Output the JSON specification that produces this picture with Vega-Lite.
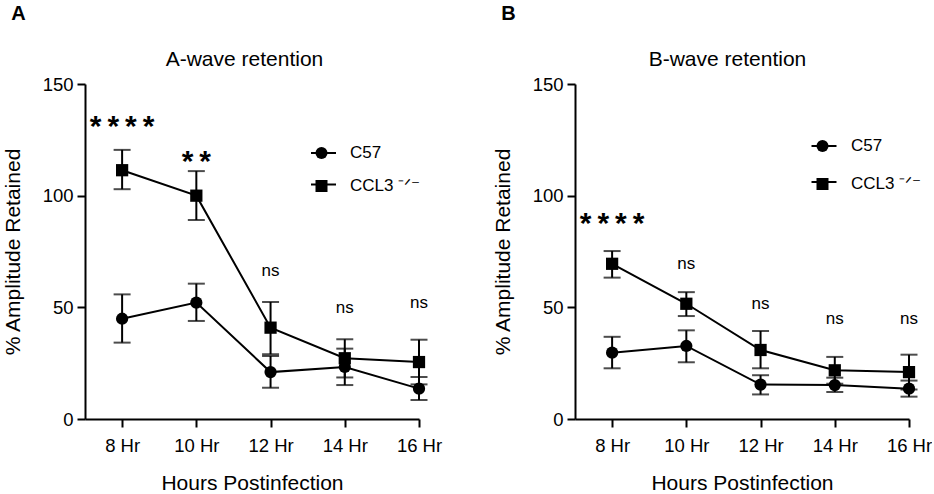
{
  "$schema": "https://vega.github.io/schema/vega-lite/v6.json",
  "padding": {"left": 2, "top": 4, "right": 0, "bottom": 0},
  "config": {
    "font": "Liberation Sans",
    "view": {"stroke": null},
    "axis": {"domainColor": "black", "domainWidth": 2, "tickColor": "black", "tickWidth": 2, "tickSize": 8, "labelColor": "black", "labelFontSize": 18.5, "titleFontSize": 21, "titleFontWeight": "normal", "titleColor": "black", "grid": false, "labelPadding": 4},
    "legend": {"orient": "none", "title": null, "labelFontSize": 17, "labelColor": "black", "symbolSize": 144, "labelOffset": 20}
  },
  "datasets": {
    "pts": [
      {"panel": "A", "group": "C57", "hour": 8, "mean": 44.9, "lo": 34.2, "hi": 55.8},
      {"panel": "A", "group": "C57", "hour": 10, "mean": 52.1, "lo": 43.9, "hi": 60.6},
      {"panel": "A", "group": "C57", "hour": 12, "mean": 21.0, "lo": 14.0, "hi": 28.2},
      {"panel": "A", "group": "C57", "hour": 14, "mean": 23.3, "lo": 15.2, "hi": 31.5},
      {"panel": "A", "group": "C57", "hour": 16, "mean": 13.6, "lo": 8.5, "hi": 18.8},
      {"panel": "A", "group": "CCL3", "hour": 8, "mean": 111.4, "lo": 102.9, "hi": 120.5},
      {"panel": "A", "group": "CCL3", "hour": 10, "mean": 100.0, "lo": 89.1, "hi": 111.0},
      {"panel": "A", "group": "CCL3", "hour": 12, "mean": 40.9, "lo": 29.0, "hi": 52.4},
      {"panel": "A", "group": "CCL3", "hour": 14, "mean": 27.2, "lo": 18.6, "hi": 35.7},
      {"panel": "A", "group": "CCL3", "hour": 16, "mean": 25.5, "lo": 15.5, "hi": 35.5},
      {"panel": "B", "group": "C57", "hour": 8, "mean": 29.7, "lo": 22.7, "hi": 36.8},
      {"panel": "B", "group": "C57", "hour": 10, "mean": 32.7, "lo": 25.4, "hi": 39.7},
      {"panel": "B", "group": "C57", "hour": 12, "mean": 15.4, "lo": 11.0, "hi": 19.6},
      {"panel": "B", "group": "C57", "hour": 14, "mean": 15.2, "lo": 12.1, "hi": 18.5},
      {"panel": "B", "group": "C57", "hour": 16, "mean": 13.6, "lo": 10.0, "hi": 17.2},
      {"panel": "B", "group": "CCL3", "hour": 8, "mean": 69.5, "lo": 63.3, "hi": 75.2},
      {"panel": "B", "group": "CCL3", "hour": 10, "mean": 51.6, "lo": 46.1, "hi": 56.8},
      {"panel": "B", "group": "CCL3", "hour": 12, "mean": 30.9, "lo": 22.7, "hi": 39.4},
      {"panel": "B", "group": "CCL3", "hour": 14, "mean": 21.8, "lo": 15.8, "hi": 27.8},
      {"panel": "B", "group": "CCL3", "hour": 16, "mean": 21.0, "lo": 13.2, "hi": 28.8}
    ],
    "ann": [
      {"panel": "A", "hour": 8, "y": 133.4, "label": "*\u2009*\u2009*\u2009*", "kind": "star"},
      {"panel": "A", "hour": 10, "y": 117.8, "label": "*\u2009*", "kind": "star"},
      {"panel": "A", "hour": 12, "y": 66.3, "label": "ns", "kind": "ns"},
      {"panel": "A", "hour": 14, "y": 49.8, "label": "ns", "kind": "ns"},
      {"panel": "A", "hour": 16, "y": 52.1, "label": "ns", "kind": "ns"},
      {"panel": "B", "hour": 8, "y": 90.1, "label": "*\u2009*\u2009*\u2009*", "kind": "star"},
      {"panel": "B", "hour": 10, "y": 69.3, "label": "ns", "kind": "ns"},
      {"panel": "B", "hour": 12, "y": 51.3, "label": "ns", "kind": "ns"},
      {"panel": "B", "hour": 14, "y": 44.9, "label": "ns", "kind": "ns"},
      {"panel": "B", "hour": 16, "y": 44.9, "label": "ns", "kind": "ns"}
    ]
  },
  "spacing": 50,
  "resolve": {"scale": {"shape": "independent", "color": "independent"}, "legend": {"shape": "independent", "color": "independent"}},
  "hconcat": [
    {
      "title": {"text": "A", "anchor": "start", "frame": "bounds", "fontSize": 20, "fontWeight": "bold", "offset": 24, "dx": 9},
      "width": 334,
      "height": 335,
      "resolve": {"axis": {"x": "independent"}},
      "layer": [
        {
          "data": {"name": "pts"},
          "transform": [{"filter": "datum.panel === 'none'"}],
          "mark": {"type": "line", "strokeWidth": 2},
          "encoding": {
            "x": {"field": "hour", "type": "quantitative", "axis": null},
            "y": {"field": "mean", "type": "quantitative", "title": "% Amplitude Retained"},
            "color": {"field": "key", "type": "nominal", "scale": {"domain": ["a", "b"], "range": ["black", "black"]},
                      "legend": {"legendX": 225, "legendY": 55.5, "rowPadding": 9.5, "symbolSize": 625, "symbolStrokeWidth": 2, "labelExpr": "''", "labelOffset": 0, "symbolType": "stroke"}}
          }
        },
        {
          "data": {"name": "pts"},
          "transform": [{"filter": "datum.panel === 'A'"}],
          "mark": {"type": "errorbar", "color": "black", "thickness": 2, "ticks": {"size": 17, "thickness": 2, "color": "black"}},
          "encoding": {
            "x": {"field": "hour", "type": "quantitative", "scale": {"domain": [7, 16], "nice": false, "zero": false},
                  "axis": {"values": [8, 10, 12, 14, 16], "labelExpr": "datum.value + ' Hr'", "title": "Hours Postinfection", "titlePadding": 18, "labelPadding": 9, "labelFlush": false}},
            "y": {"field": "lo", "type": "quantitative", "title": "% Amplitude Retained", "scale": {"domain": [0, 150], "nice": false},
                  "axis": {"values": [0, 50, 100, 150], "titlePadding": 19}},
            "y2": {"field": "hi"}
          }
        },
        {
          "data": {"name": "pts"},
          "transform": [{"filter": "datum.panel === 'A'"}],
          "mark": {"type": "line", "color": "black", "strokeWidth": 2},
          "encoding": {
            "x": {"field": "hour", "type": "quantitative", "scale": {"domain": [7, 16], "nice": false, "zero": false},
                  "axis": {"orient": "top", "domain": false, "ticks": false, "labels": false, "title": "A-wave retention", "titlePadding": 15, "titleX": 159}},
            "y": {"field": "mean", "type": "quantitative", "title": "% Amplitude Retained"},
            "detail": {"field": "group"}
          }
        },
        {
          "data": {"name": "pts"},
          "transform": [{"filter": "datum.panel === 'A'"}],
          "mark": {"type": "point", "filled": true, "color": "black", "size": 150, "opacity": 1},
          "encoding": {
            "x": {"field": "hour", "type": "quantitative", "axis": null},
            "y": {"field": "mean", "type": "quantitative", "title": "% Amplitude Retained"},
            "shape": {"field": "group", "type": "nominal", "scale": {"domain": ["C57", "CCL3"], "range": ["circle", "square"]},
                      "legend": {"legendX": 228, "legendY": 60.5, "rowPadding": 14, "labelOffset": 20,
                                 "labelExpr": "datum.label === 'CCL3' ? 'CCL3 ⁻ᐟ⁻' : datum.label"}}
          }
        },
        {
          "data": {"name": "ann"},
          "transform": [{"filter": "datum.panel === 'A' && datum.kind === 'star'"}],
          "mark": {"type": "text", "fontSize": 30, "fontWeight": "bold", "color": "black", "dy": 6},
          "encoding": {
            "x": {"field": "hour", "type": "quantitative", "axis": null},
            "y": {"field": "y", "type": "quantitative", "title": "% Amplitude Retained"},
            "text": {"field": "label"}
          }
        },
        {
          "data": {"name": "ann"},
          "transform": [{"filter": "datum.panel === 'A' && datum.kind === 'ns'"}],
          "mark": {"type": "text", "fontSize": 17, "color": "black"},
          "encoding": {
            "x": {"field": "hour", "type": "quantitative", "axis": null},
            "y": {"field": "y", "type": "quantitative", "title": "% Amplitude Retained"},
            "text": {"field": "label"}
          }
        }
      ]
    },
    {
      "title": {"text": "B", "anchor": "start", "frame": "bounds", "fontSize": 20, "fontWeight": "bold", "offset": 24, "dx": 9},
      "width": 334,
      "height": 335,
      "resolve": {"axis": {"x": "independent"}},
      "layer": [
        {
          "data": {"name": "pts"},
          "transform": [{"filter": "datum.panel === 'none'"}],
          "mark": {"type": "line", "strokeWidth": 2},
          "encoding": {
            "x": {"field": "hour", "type": "quantitative", "axis": null},
            "y": {"field": "mean", "type": "quantitative", "title": "% Amplitude Retained"},
            "color": {"field": "key", "type": "nominal", "scale": {"domain": ["a", "b"], "range": ["black", "black"]},
                      "legend": {"legendX": 235.5, "legendY": 48.5, "rowPadding": 14, "symbolSize": 625, "symbolStrokeWidth": 2, "labelExpr": "''", "labelOffset": 0, "symbolType": "stroke"}}
          }
        },
        {
          "data": {"name": "pts"},
          "transform": [{"filter": "datum.panel === 'B'"}],
          "mark": {"type": "errorbar", "color": "black", "thickness": 2, "ticks": {"size": 17, "thickness": 2, "color": "black"}},
          "encoding": {
            "x": {"field": "hour", "type": "quantitative", "scale": {"domain": [7, 16], "nice": false, "zero": false},
                  "axis": {"values": [8, 10, 12, 14, 16], "labelExpr": "datum.value + ' Hr'", "title": "Hours Postinfection", "titlePadding": 18, "labelPadding": 9, "labelFlush": false}},
            "y": {"field": "lo", "type": "quantitative", "title": "% Amplitude Retained", "scale": {"domain": [0, 150], "nice": false},
                  "axis": {"values": [0, 50, 100, 150], "titlePadding": 19}},
            "y2": {"field": "hi"}
          }
        },
        {
          "data": {"name": "pts"},
          "transform": [{"filter": "datum.panel === 'B'"}],
          "mark": {"type": "line", "color": "black", "strokeWidth": 2},
          "encoding": {
            "x": {"field": "hour", "type": "quantitative", "scale": {"domain": [7, 16], "nice": false, "zero": false},
                  "axis": {"orient": "top", "domain": false, "ticks": false, "labels": false, "title": "B-wave retention", "titlePadding": 15, "titleX": 152}},
            "y": {"field": "mean", "type": "quantitative", "title": "% Amplitude Retained"},
            "detail": {"field": "group"}
          }
        },
        {
          "data": {"name": "pts"},
          "transform": [{"filter": "datum.panel === 'B'"}],
          "mark": {"type": "point", "filled": true, "color": "black", "size": 150, "opacity": 1},
          "encoding": {
            "x": {"field": "hour", "type": "quantitative", "axis": null},
            "y": {"field": "mean", "type": "quantitative", "title": "% Amplitude Retained"},
            "shape": {"field": "group", "type": "nominal", "scale": {"domain": ["C57", "CCL3"], "range": ["circle", "square"]},
                      "legend": {"legendX": 239, "legendY": 53.5, "rowPadding": 19, "labelOffset": 20,
                                 "labelExpr": "datum.label === 'CCL3' ? 'CCL3 ⁻ᐟ⁻' : datum.label"}}
          }
        },
        {
          "data": {"name": "ann"},
          "transform": [{"filter": "datum.panel === 'B' && datum.kind === 'star'"}],
          "mark": {"type": "text", "fontSize": 30, "fontWeight": "bold", "color": "black", "dy": 6},
          "encoding": {
            "x": {"field": "hour", "type": "quantitative", "axis": null},
            "y": {"field": "y", "type": "quantitative", "title": "% Amplitude Retained"},
            "text": {"field": "label"}
          }
        },
        {
          "data": {"name": "ann"},
          "transform": [{"filter": "datum.panel === 'B' && datum.kind === 'ns'"}],
          "mark": {"type": "text", "fontSize": 17, "color": "black"},
          "encoding": {
            "x": {"field": "hour", "type": "quantitative", "axis": null},
            "y": {"field": "y", "type": "quantitative", "title": "% Amplitude Retained"},
            "text": {"field": "label"}
          }
        }
      ]
    }
  ]
}
